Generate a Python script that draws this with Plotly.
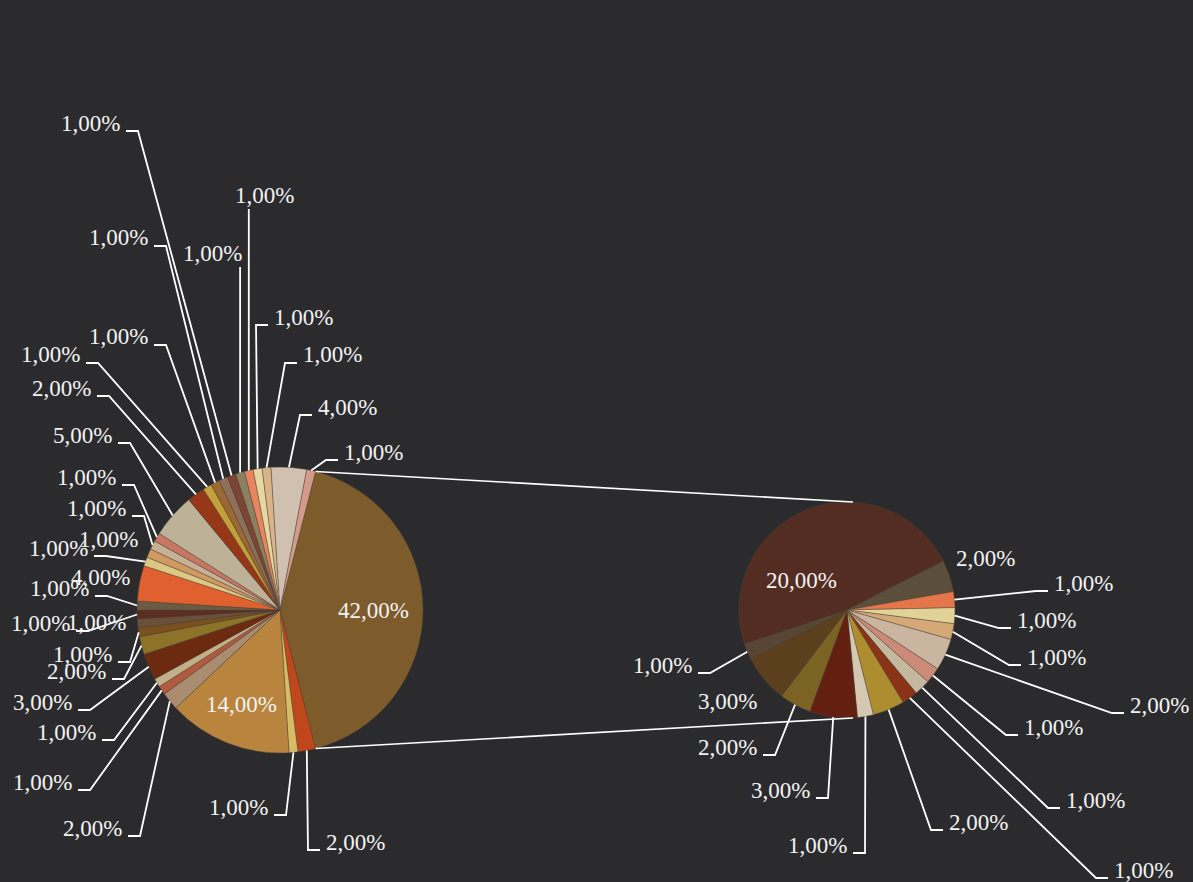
import math
import plotly.graph_objects as go

W, H = 1193, 882

# ---------------- data ----------------
left_values = [42, 2, 1, 14, 2, 1, 1, 3, 2, 1, 1, 1, 1, 4, 1, 1, 1, 1, 5, 2,
               1, 1, 1, 1, 1, 1, 1, 1, 4, 1]
left_colors = ["#7e5b2b", "#c0461c", "#d8bb65", "#b9853e", "#aa8d70", "#b05b40",
               "#c2ae88", "#6c2a10", "#8d7327", "#7a5020", "#6a5039", "#5c2e22",
               "#6a5b42", "#e0602f", "#ddc784", "#d09a60", "#c8b096", "#c87862",
               "#bdb297", "#963818", "#c4a03a", "#9a6832", "#8e705a", "#7c4432",
               "#8d8060", "#e8845e", "#e6d8a0", "#d8b488", "#cfc0b0", "#d49a8a"]

right_values = [20, 2, 1, 1, 1, 2, 1, 1, 1, 2, 1, 3, 2, 3, 1]
right_colors = ["#532d22", "#5b4e3a", "#e5754a", "#e1d397", "#d4a877", "#c9b5a0",
                "#cc8a78", "#c4b89e", "#8a3316", "#ae8d31", "#d5c8b2", "#632010",
                "#7b6324", "#5c3f1c", "#594533"]

# ---------------- layout / style ----------------
LC, LR = (280.0, 610.0), 143.0      # left pie centre / radius (px)
RC, RR = (847.0, 610.0), 108.0      # right pie centre / radius (px)
RIGHT_ROTATION = 251.6

# label text centres (px) and leader style: I inside, N no leader,
# L label left of leader, R label right of leader, B leader from below
left_label_pos = [
    (373, 610, "I"), (355, 842, "R"), (238, 807, "L"), (241, 704, "I"),
    (92, 828, "L"), (42, 782, "L"), (66, 732, "L"), (42, 702, "L"),
    (76, 671, "L"), (82, 654, "L"), (96, 622, "N"), (40, 623, "L"),
    (59, 588, "L"), (100, 577, "N"), (58, 548, "L"), (108, 539, "N"),
    (96, 508, "L"), (86, 477, "L"), (82, 435, "L"), (61, 388, "L"),
    (50, 355, "L"), (118, 337, "L"), (118, 238, "L"), (90, 123, "L"),
    (212, 253, "B"), (264, 195, "B"), (303, 317, "R"), (332, 355, "R"),
    (347, 407, "R"), (373, 452, "R"),
]
right_label_pos = [
    (801, 580, "I"), (985, 558, "N"), (1083, 583, "R"), (1046, 620, "R"),
    (1056, 657, "R"), (1159, 705, "R"), (1053, 727, "R"), (1095, 800, "R"),
    (1143, 870, "R"), (978, 822, "R"), (817, 845, "L"), (780, 790, "L"),
    (727, 747, "L"), (727, 701, "N"), (662, 665, "L"),
]

BG = "#2b2b2d"
TXT = "#f2f2f2"
LINE = "#ffffff"
FONT = dict(family="Liberation Serif", size=23, color=TXT)
HALF_W = 30


def px(x, y):
    return x / W, 1 - y / H


def domain(c, r):
    return dict(x=[(c[0] - r) / W, (c[0] + r) / W],
                y=[1 - (c[1] + r) / H, 1 - (c[1] - r) / H])


def edge_point(c, r, ang):
    a = math.radians(ang)
    return c[0] + r * math.sin(a), c[1] - r * math.cos(a)


def mid_angles(values, rotation):
    tot = sum(values)
    out, cur = [], rotation
    for v in values:
        span = v / tot * 360
        out.append((cur, cur + span, cur + span / 2))
        cur += span
    return out


left_total = sum(left_values)
LEFT_ROTATION = 90 - left_values[0] / left_total * 360 / 2

fig = go.Figure()
fig.add_trace(go.Pie(values=left_values, marker=dict(colors=left_colors, line=dict(color="rgba(80,70,60,0.7)", width=0.6)),
                     sort=False, direction="clockwise", rotation=LEFT_ROTATION,
                     textinfo="none", hoverinfo="skip", domain=domain(LC, LR), showlegend=False))
fig.add_trace(go.Pie(values=right_values, marker=dict(colors=right_colors, line=dict(color="rgba(80,70,60,0.7)", width=0.6)),
                     sort=False, direction="clockwise", rotation=RIGHT_ROTATION,
                     textinfo="none", hoverinfo="skip", domain=domain(RC, RR), showlegend=False))

shapes, annotations = [], []


def fmt(v):
    return f"{v:.2f}%".replace(".", ",")


def add_labels(values, total, c, r, rotation, positions):
    angs = mid_angles(values, rotation)
    for v, (a0, a1, am), (tx, ty, side) in zip(values, angs, positions):
        x, y = px(tx, ty)
        annotations.append(dict(text=fmt(v / total * 100), x=x, y=y, xref="paper", yref="paper",
                                xanchor="center", yanchor="middle", showarrow=False, font=FONT))
        sx, sy = edge_point(c, r, am)
        pts = None
        if side == "L":
            pts = [(tx + HALF_W + 6, ty + 8), (tx + HALF_W + 18, ty + 8), (sx, sy)]
        elif side == "R":
            pts = [(tx - HALF_W - 5, ty + 8), (tx - HALF_W - 17, ty + 8), (sx, sy)]
        elif side == "B":
            pts = [(sx, ty + 14), (sx, sy)]
        if pts:
            path = "M " + " L ".join(f"{px(a, b)[0]:.5f},{px(a, b)[1]:.5f}" for a, b in pts)
            shapes.append(dict(type="path", path=path, xref="paper", yref="paper",
                               line=dict(color=LINE, width=1.8)))


add_labels(left_values, left_total, LC, LR, LEFT_ROTATION, left_label_pos)
add_labels(right_values, left_total, RC, RR, RIGHT_ROTATION, right_label_pos)

# connector lines from the "other" slice to the secondary pie
a0, a1, _ = mid_angles(left_values, LEFT_ROTATION)[0]
p_top = edge_point(LC, LR, a0)
p_bot = edge_point(LC, LR, a1)
for p, q in [(p_top, (RC[0] + 6, RC[1] - RR)), (p_bot, (RC[0] + 6, RC[1] + RR))]:
    x0, y0 = px(*p)
    x1, y1 = px(*q)
    shapes.append(dict(type="line", x0=x0, y0=y0, x1=x1, y1=y1, xref="paper", yref="paper",
                       line=dict(color=LINE, width=1.6)))

fig.update_layout(width=W, height=H, margin=dict(l=0, r=0, t=0, b=0),
                  paper_bgcolor=BG, plot_bgcolor=BG,
                  shapes=shapes, annotations=annotations, showlegend=False)

fig.write_html("out.html", config={"displayModeBar": False},
               post_script="document.body.style.margin='0';document.body.style.overflow='hidden';")
